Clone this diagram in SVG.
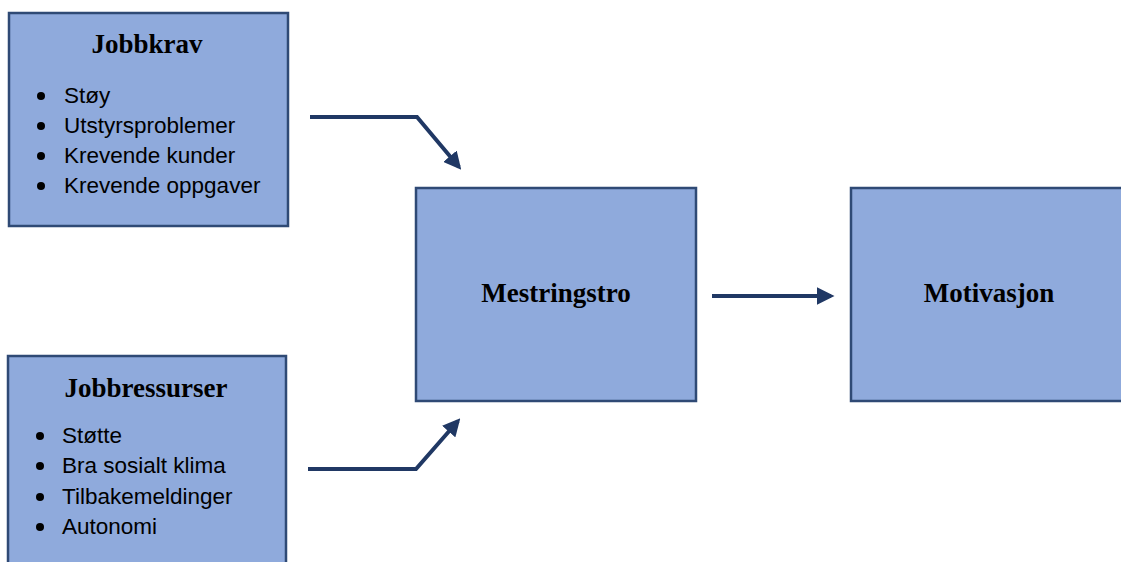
<svg xmlns="http://www.w3.org/2000/svg" width="1121" height="562" viewBox="0 0 1121 562">
<style>
.box{fill:#8FAADC;stroke:#2F4A75;stroke-width:2.5}
.title{font-family:"Liberation Serif",serif;font-weight:bold;font-size:27px;fill:#000;text-anchor:middle}
.item{font-family:"Liberation Sans",sans-serif;font-size:22.5px;fill:#000}
.dot{fill:#000}
.conn{fill:none;stroke:#203864;stroke-width:4;stroke-linejoin:miter}
</style>
<defs>
<marker id="ah" viewBox="0 0 10 10" refX="8" refY="5" markerWidth="4.4" markerHeight="4.4" orient="auto" markerUnits="strokeWidth">
<path d="M0,0 L10,5 L0,10 Z" fill="#203864"/>
</marker>
</defs>
<rect width="1121" height="562" fill="#fff"/>
<g id="jobbkrav">
<rect class="box" x="9" y="13" width="279" height="213"/>
<text class="title" x="147" y="53">Jobbkrav</text>
<circle class="dot" cx="41" cy="96" r="4"/>
<circle class="dot" cx="41" cy="126" r="4"/>
<circle class="dot" cx="41" cy="156" r="4"/>
<circle class="dot" cx="41" cy="186" r="4"/>
<text class="item" x="64" y="103">Støy</text>
<text class="item" x="64" y="133">Utstyrsproblemer</text>
<text class="item" x="64" y="163">Krevende kunder</text>
<text class="item" x="64" y="193">Krevende oppgaver</text>
</g>
<g id="jobbressurser">
<rect class="box" x="8" y="356" width="278" height="220"/>
<text class="title" x="146" y="397">Jobbressurser</text>
<circle class="dot" cx="40" cy="436" r="4"/>
<circle class="dot" cx="40" cy="466" r="4"/>
<circle class="dot" cx="40" cy="497" r="4"/>
<circle class="dot" cx="40" cy="527" r="4"/>
<text class="item" x="62" y="443">Støtte</text>
<text class="item" x="62" y="473">Bra sosialt klima</text>
<text class="item" x="62" y="504">Tilbakemeldinger</text>
<text class="item" x="62" y="534">Autonomi</text>
</g>
<g id="mestringstro">
<rect class="box" x="416" y="188" width="280" height="213"/>
<text class="title" x="556" y="302">Mestringstro</text>
</g>
<g id="motivasjon">
<rect class="box" x="851" y="188" width="280" height="213"/>
<text class="title" x="989" y="302">Motivasjon</text>
</g>
<g id="connectors">
<path class="conn" d="M310,117 L417,117 L459,167" marker-end="url(#ah)"/>
<path class="conn" d="M308,469 L416,469 L458,421" marker-end="url(#ah)"/>
<path class="conn" d="M712,296 L831,296" marker-end="url(#ah)"/>
</g>
</svg>
